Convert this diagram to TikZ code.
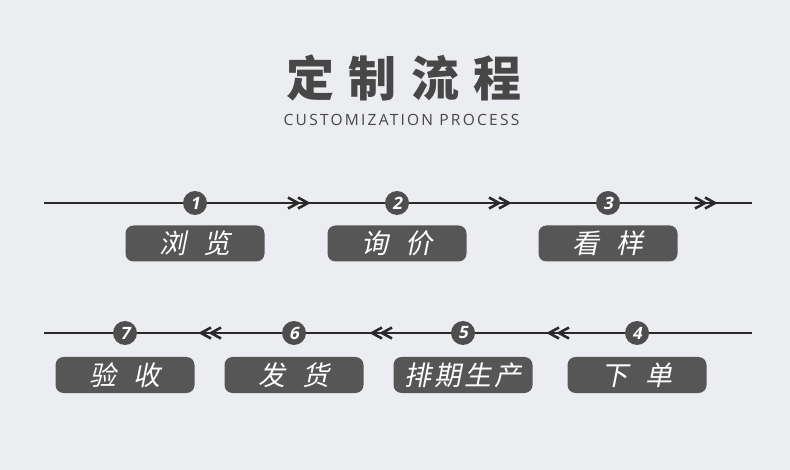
\documentclass[tikz,border=0pt]{standalone}
\usepackage{fontspec}
\setmainfont{Open Sans}
\newfontfamily\titlefont[LetterSpace=30]{Noto Sans CJK SC}
\newfontfamily\subfont[LetterSpace=14.5]{Open Sans}
\newfontfamily\boxfont[FakeSlant=0.2,LetterSpace=10]{Noto Sans CJK SC}
\newfontfamily\numfont[FakeSlant=0.2]{Open Sans}

\definecolor{bggray}{HTML}{ECEDF0}
\definecolor{boxgray}{HTML}{565656}
\definecolor{dotgray}{HTML}{4E4E4E}
\definecolor{titlegray}{HTML}{474747}
\definecolor{linegray}{HTML}{2A2A2A}

\tikzset{
	stepdot/.style={circle, fill=dotgray, minimum size=24pt, inner sep=0pt, text=white,
		font=\numfont\bfseries\fontsize{17}{17}\selectfont},
	stepbox/.style={rectangle, rounded corners=8pt, fill=boxgray, minimum width=139pt,
		minimum height=36pt, inner sep=0pt, text=white, font=\boxfont\fontsize{27}{27}\selectfont},
	flowline/.style={draw=linegray, line width=1.4pt},
	chevron/.style={draw=linegray, line width=2.6pt},
	pics/fwd/.style={code={
		\draw[chevron] (-11,-5.5) -- (-1,0) -- (-11,5.5);
		\draw[chevron] (-1,-5.5) -- (9,0) -- (-1,5.5);
	}},
	pics/back/.style={code={
		\draw[chevron] (11,-5.5) -- (1,0) -- (11,5.5);
		\draw[chevron] (1,-5.5) -- (-9,0) -- (1,5.5);
	}},
}

\begin{document}
\begin{tikzpicture}[x=1pt,y=-1pt]
	\def \rowa {203}
	\def \rowb {333}
	\def \gap {\hspace{0.6em}}
	
	\fill[bggray] (0,0) rectangle (790,470);
	\useasboundingbox (0,0) rectangle (790,470);
	
	\node[font=\titlefont\bfseries\fontsize{48}{48}\selectfont, text=titlegray] (title) at (404,78) {定制流程};
	\node[font=\subfont\fontsize{15.5}{15.5}\selectfont, text=titlegray] (subtitle) at (401.5,119.5) {CUSTOMIZATION PROCESS};
	
	% first row: left to right
	\foreach \s/\x/\lab in {1/195/{浏\gap 览}, 2/397/{询\gap 价}, 3/608/{看\gap 样}}
	{
		\node[stepdot] (s\s) at (\x,\rowa) {\s};
		\node[stepbox] (b\s) at (\x,\rowa+40.5) {\lab};
	}
	\coordinate (l1w) at (44,\rowa);
	\coordinate (l1e) at (752,\rowa);
	\draw[flowline] (l1w) -- (s1) -- (s2) -- (s3) -- (l1e);
	\foreach \x in {299,500,706}
		\pic at (\x,\rowa) {fwd};
	
	% second row: right to left
	\foreach \s/\x/\lab in {4/637/{下\gap 单}, 5/463/{排期生产}, 6/294/{发\gap 货}, 7/125/{验\gap 收}}
	{
		\node[stepdot] (s\s) at (\x,\rowb) {\s};
		\node[stepbox] (b\s) at (\x,\rowb+42) {\lab};
	}
	\coordinate (l2e) at (752,\rowb);
	\coordinate (l2w) at (44,\rowb);
	\draw[flowline] (l2e) -- (s4) -- (s5) -- (s6) -- (s7) -- (l2w);
	\foreach \x in {558,381,210}
		\pic at (\x,\rowb) {back};
\end{tikzpicture}
\end{document}
